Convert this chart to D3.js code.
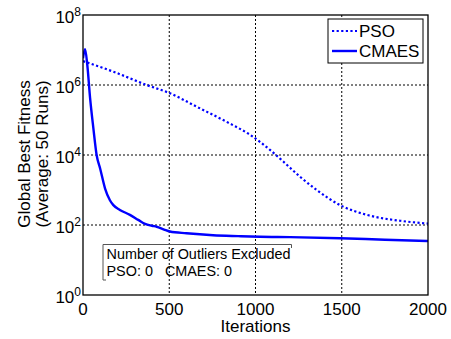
<!DOCTYPE html>
<html>
<head>
<meta charset="utf-8">
<script src="https://d3js.org/d3.v7.min.js"></script>
<style>
  body { margin: 0; background: #fff; }
  svg text { font-family: "Liberation Sans", Arial, sans-serif; fill: #000; }
</style>
</head>
<body>
<script>
// values
var psoIter = [0, 176, 369, 504, 659, 852, 968, 1084, 1161, 1258, 1355, 1490, 1645, 1838, 2000];
var psoFit = [4.8e6, 2.4e6, 1.0e6, 5.8e5, 2.4e5, 7.9e4, 3.8e4, 1.4e4, 6.5e3, 2.4e3, 1.0e3, 370, 195, 132, 110];

var cmaesIter = [0, 12, 25, 41, 60, 79, 100, 128, 156, 176, 214, 272, 320, 360, 400, 427, 470, 504, 600, 754, 900, 1026, 1200, 1490, 1750, 2000];
var cmaesFit = [5.8e6, 1.05e7, 3.7e6, 4.3e5, 5.9e4, 1.0e4, 4.0e3, 1.1e3, 510, 370, 270, 195, 140, 107, 95, 89, 74, 65, 58, 51, 48, 46, 45, 42, 38, 35];

var xTicks = [0, 500, 1000, 1500, 2000];
var yExps = [0, 2, 4, 6, 8];

var width = 451, height = 339;
var pl = 83, pr = 428, pt = 15, pb = 295; // plot box edges

var svg = d3.select("body").append("svg")
    .attr("width", width)
    .attr("height", height);

var x = d3.scaleLinear().domain([0, 2000]).range([pl, pr]);
var y = d3.scaleLog().domain([1, 1e8]).range([pb, pt]);

svg.append("rect")
    .attr("x", pl).attr("y", pt)
    .attr("width", pr - pl).attr("height", pb - pt)
    .attr("fill", "#fff");

// grid
svg.selectAll(".gx").data(xTicks.slice(1, -1)).enter().append("line")
    .attr("x1", function(d) { return x(d); })
    .attr("x2", function(d) { return x(d); })
    .attr("y1", pt).attr("y2", pb)
    .attr("stroke", "#000").attr("stroke-width", 1)
    .attr("stroke-dasharray", "2,2");

svg.selectAll(".gy").data(yExps.slice(1, -1)).enter().append("line")
    .attr("x1", pl).attr("x2", pr)
    .attr("y1", function(d) { return y(Math.pow(10, d)); })
    .attr("y2", function(d) { return y(Math.pow(10, d)); })
    .attr("stroke", "#000").attr("stroke-width", 1)
    .attr("stroke-dasharray", "2,2");

svg.append("clipPath").attr("id", "clip")
  .append("rect")
    .attr("x", pl).attr("y", pt)
    .attr("width", pr - pl).attr("height", pb - pt);

var line = d3.line()
    .x(function(d) { return x(d[0]); })
    .y(function(d) { return y(d[1]); })
    .curve(d3.curveMonotoneX);

svg.append("path")
    .datum(d3.zip(psoIter, psoFit))
    .attr("clip-path", "url(#clip)")
    .attr("d", line)
    .attr("fill", "none")
    .attr("stroke", "#0000ff")
    .attr("stroke-width", 2.2)
    .attr("stroke-dasharray", "2.2,2.4");

svg.append("path")
    .datum(d3.zip(cmaesIter, cmaesFit))
    .attr("clip-path", "url(#clip)")
    .attr("d", line)
    .attr("fill", "none")
    .attr("stroke", "#0000ff")
    .attr("stroke-width", 2.4)
    .attr("stroke-linejoin", "round");

// box
svg.append("rect")
    .attr("x", pl).attr("y", pt)
    .attr("width", pr - pl).attr("height", pb - pt)
    .attr("fill", "none")
    .attr("stroke", "#000").attr("stroke-width", 1.3);

// x tick labels
svg.selectAll(".xt").data(xTicks).enter().append("text")
    .attr("x", function(d) { return x(d); })
    .attr("y", 315)
    .attr("text-anchor", "middle")
    .style("font-size", "17px")
    .text(function(d) { return d; });

// y tick labels 10^n
var yt = svg.selectAll(".yt").data(yExps).enter().append("text")
    .attr("x", 81)
    .attr("y", function(d) { return y(Math.pow(10, d)) + 7.5; })
    .attr("text-anchor", "end")
    .style("font-size", "17px");
yt.append("tspan").text("10");
yt.append("tspan")
    .attr("dy", -6.5)
    .style("font-size", "12px")
    .text(function(d) { return d; });

// axis titles
svg.append("text")
    .attr("x", (pl + pr) / 2)
    .attr("y", 332)
    .attr("text-anchor", "middle")
    .style("font-size", "17px")
    .text("Iterations");

svg.append("text")
    .attr("transform", "translate(30,154) rotate(-90)")
    .attr("text-anchor", "middle")
    .style("font-size", "17px")
    .text("Global Best Fitness");

svg.append("text")
    .attr("transform", "translate(48,154) rotate(-90)")
    .attr("text-anchor", "middle")
    .style("font-size", "17px")
    .text("(Average: 50 Runs)");

// legend
var lg = svg.append("g");
lg.append("rect")
    .attr("x", 328).attr("y", 19)
    .attr("width", 95).attr("height", 44)
    .attr("fill", "#fff")
    .attr("stroke", "#000").attr("stroke-width", 1);
lg.append("line")
    .attr("x1", 332).attr("x2", 357).attr("y1", 31).attr("y2", 31)
    .attr("stroke", "#0000ff").attr("stroke-width", 2.2)
    .attr("stroke-dasharray", "2.2,2.4");
lg.append("line")
    .attr("x1", 332).attr("x2", 357).attr("y1", 51).attr("y2", 51)
    .attr("stroke", "#0000ff").attr("stroke-width", 2.4);
lg.append("text").attr("x", 359).attr("y", 37).style("font-size", "17px").text("PSO");
lg.append("text").attr("x", 359).attr("y", 56.5).style("font-size", "17px").text("CMAES");

// outliers annotation
var an = svg.append("g");
an.append("path")
    .attr("d", "M106,280 H103 V244.5 H291.5 V248")
    .attr("fill", "none")
    .attr("stroke", "#555").attr("stroke-width", 1);
an.append("text").attr("x", 106.5).attr("y", 259.3)
    .style("font-size", "14.4px")
    .text("Number of Outliers Excluded");
an.append("text").attr("x", 106.5).attr("y", 275.7)
    .style("font-size", "14.4px")
    .style("white-space", "pre")
    .text("PSO: 0   CMAES: 0");
</script>
</body>
</html>
